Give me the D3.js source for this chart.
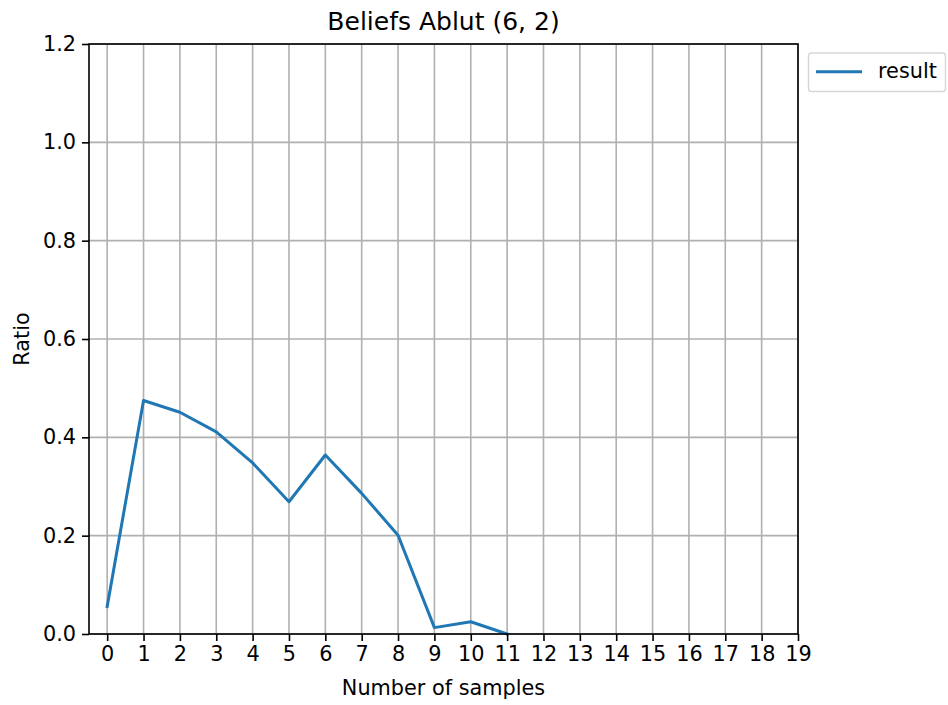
<!DOCTYPE html>
<html>
<head>
<meta charset="utf-8">
<script src="https://cdn.jsdelivr.net/npm/d3@7"></script>
<style>
  body { margin: 0; background: #fff; }
  text { font-family: "DejaVu Sans", sans-serif; fill: #000; }
</style>
</head>
<body>
<svg id="chart" width="948" height="705"></svg>
<script>
// Sample counts along the x axis and the ratio measured at each
const samples = [0, 1, 2, 3, 4, 5, 6, 7, 8, 9, 10, 11];
const ratios = [0.056, 0.475, 0.451, 0.411, 0.348, 0.269, 0.364, 0.286, 0.201, 0.013, 0.025, 0.0];
const xTicks = d3.range(0, 20);
const yTicks = [0.0, 0.2, 0.4, 0.6, 0.8, 1.0, 1.2];
const seriesName = "result";
const titleText = "Beliefs Ablut (6, 2)";

(function draw() {
  const svg = d3.select("#chart");
  const pLeft = 89, pRight = 798, pTop = 44, pBottom = 634;
  const fontSize = 20.8, titleSize = 25;

  const x = d3.scaleLinear().domain([-0.5, 19]).range([pLeft, pRight]);
  const y = d3.scaleLinear().domain([0, 1.2]).range([pBottom, pTop]);

  // grid
  const grid = svg.append("g").attr("stroke", "#b0b0b0").attr("stroke-width", 1.6);
  grid.selectAll("line.v").data(xTicks).join("line").attr("class", "v")
    .attr("x1", d => x(d)).attr("x2", d => x(d)).attr("y1", pTop).attr("y2", pBottom);
  grid.selectAll("line.h").data(yTicks).join("line").attr("class", "h")
    .attr("x1", pLeft).attr("x2", pRight).attr("y1", d => y(d)).attr("y2", d => y(d));

  // series line
  const line = d3.line().x((d, i) => x(samples[i])).y(d => y(d));
  svg.append("path").datum(ratios)
    .attr("fill", "none").attr("stroke", "#1f77b4").attr("stroke-width", 3)
    .attr("stroke-linejoin", "round").attr("stroke-linecap", "square")
    .attr("d", line);

  // frame
  svg.append("rect").attr("x", pLeft).attr("y", pTop).attr("width", pRight - pLeft).attr("height", pBottom - pTop)
    .attr("fill", "none").attr("stroke", "#000").attr("stroke-width", 1.6);

  // axes
  const xAxis = d3.axisBottom(x).tickValues(xTicks).tickFormat(d3.format("d")).tickSize(7).tickPadding(5);
  const gx = svg.append("g").attr("transform", `translate(0,${pBottom})`).call(xAxis);
  const yAxis = d3.axisLeft(y).tickValues(yTicks).tickFormat(d3.format(".1f")).tickSize(7).tickPadding(6);
  const gy = svg.append("g").attr("transform", `translate(${pLeft},0)`).call(yAxis);
  [gx, gy].forEach(g => {
    g.select(".domain").remove();
    g.selectAll(".tick line").attr("stroke", "#000").attr("stroke-width", 1.6);
    g.selectAll(".tick text").attr("font-size", fontSize).attr("font-family", "DejaVu Sans, sans-serif").attr("fill", "#000");
  });

  // title and axis labels
  svg.append("text").attr("x", (pLeft + pRight) / 2).attr("y", 30).attr("text-anchor", "middle")
    .attr("font-size", titleSize).text(titleText);
  svg.append("text").attr("x", (pLeft + pRight) / 2).attr("y", 695).attr("text-anchor", "middle")
    .attr("font-size", fontSize).text("Number of samples");
  svg.append("text").attr("transform", `translate(28.5,${(pTop + pBottom) / 2}) rotate(-90)`)
    .attr("text-anchor", "middle").attr("font-size", fontSize).text("Ratio");

  // legend
  const lg = svg.append("g");
  lg.append("rect").attr("x", 808.5).attr("y", 53).attr("width", 137).attr("height", 38.5).attr("rx", 3)
    .attr("fill", "#fff").attr("stroke", "#d6d6d6").attr("stroke-width", 1.4);
  lg.append("line").attr("x1", 816).attr("x2", 862).attr("y1", 71.7).attr("y2", 71.7)
    .attr("stroke", "#1f77b4").attr("stroke-width", 3);
  lg.append("text").attr("x", 878).attr("y", 78).attr("font-size", fontSize).text(seriesName);
})();
</script>
</body>
</html>
